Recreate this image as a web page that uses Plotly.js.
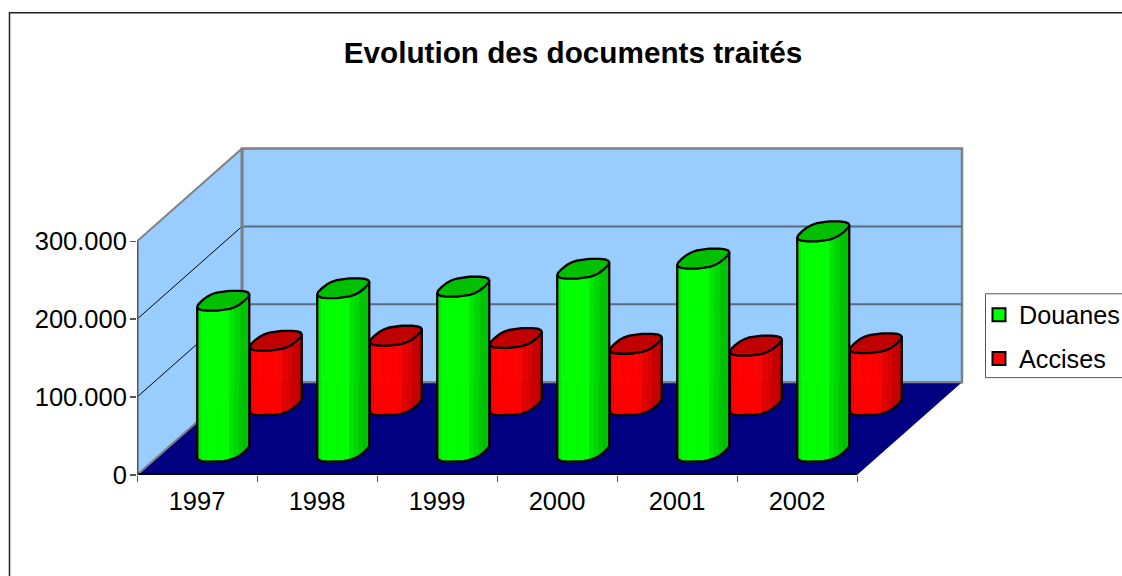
<!DOCTYPE html>
<html>
<head>
<meta charset="utf-8">
<script src="https://cdn.plot.ly/plotly-3.0.1.min.js"></script>
<style>html,body{margin:0;padding:0;background:#fff;overflow:hidden}</style>
</head>
<body>
<div id="chart" style="width:1122px;height:576px"></div>
<script>
const years = ['1997', '1998', '1999', '2000', '2001', '2002'];
const douanes = [194000, 210000, 212000, 235000, 248000, 283000];
const accises = [83000, 89500, 86500, 79000, 76700, 79700];
const valueTicks = [0, 100000, 200000, 300000];
const valueLabels = ['0', '100.000', '200.000', '300.000'];

// oblique projection of the 3D box into the 2D axes
const DEPTH_X = 0.875, DEPTH_Y = 119230, VMAX = 300000, NCAT = years.length;
const project = (c, v, z) => [c + z * DEPTH_X, v + z * DEPTH_Y];
const base = {type: 'scatter', hoverinfo: 'skip', showlegend: false, cliponaxis: false};
const traces = [];

function poly(corners, fill, lineColor, width) {
  const pts = corners.map(p => project(p[0], p[1], p[2]));
  const tr = Object.assign({}, base, {
    x: pts.map(p => p[0]), y: pts.map(p => p[1]), mode: lineColor ? 'lines' : 'none',
    line: {color: lineColor || 'rgba(0,0,0,0)', width: width || 1}
  });
  if (fill) { tr.fill = 'toself'; tr.fillcolor = fill; }
  traces.push(tr);
}

// series first, so that their legend entries exist; cylinders cover the markers
const seriesDefs = [
  {name: 'Douanes', vals: douanes, z: 0.25, cap: '#00C000',
   shades: ['#00F000', '#00FF00', '#00FF00', '#00E400', '#00D800', '#00C400']},
  {name: 'Accises', vals: accises, z: 0.75, cap: '#C00000',
   shades: ['#F00000', '#FF0000', '#FF0000', '#E40000', '#D80000', '#C40000']}
];
seriesDefs.forEach((s, i) => {
  const pts = s.vals.map((v, k) => project(k + 0.5, v, s.z));
  traces.push({
    type: 'scatter', mode: 'markers', name: s.name, legendgroup: s.name, hoverinfo: 'skip',
    x: pts.map(p => p[0]), y: pts.map(p => p[1]),
    marker: {symbol: 'square', size: 13, color: i === 0 ? '#00FF00' : '#FF0000', line: {color: '#000', width: 2}}
  });
});

// walls and floor
const WALL = '#99CCFF', EDGE = '#808080';
poly([[0,0,1],[NCAT,0,1],[NCAT,VMAX,1],[0,VMAX,1],[0,0,1]], WALL, EDGE, 2.5);
poly([[0,0,0],[0,0,1],[0,VMAX,1],[0,VMAX,0],[0,0,0]], WALL, EDGE, 2);
valueTicks.slice(1, 3).forEach(v => {
  poly([[0,v,0],[0,v,1]], null, '#000000', 1);
});
valueTicks.slice(1, 3).forEach(v => {
  poly([[0,v,1],[NCAT,v,1]], null, '#5A6B80', 2);
});
poly([[0,0,0],[NCAT,0,0],[NCAT,0,1],[0,0,1],[0,0,0]], '#000080', null);
poly([[0,0,0],[0,0,1],[NCAT,0,1]], null, EDGE, 2);
poly([[0,VMAX,1],[0,0,1]], null, EDGE, 3);
poly([[0,0,0],[NCAT,0,0]], null, '#000000', 3.5);
poly([[0,0,0],[0,VMAX,0]], null, '#555555', 3);

// cylinder footprint: a squared ellipse on the floor plane
const HALF_W = 0.177, HALF_Z = 0.1075, STEPS = 22, POWER = 0.72;
const spow = a => Math.sign(a) * Math.pow(Math.abs(a), POWER);
function outline(cat, val, z) {
  const out = [];
  for (let i = 0; i < STEPS; i++) {
    const t = 2 * Math.PI * i / STEPS;
    out.push(project(cat + HALF_W * spow(Math.cos(t)), val, z + HALF_Z * spow(Math.sin(t))));
  }
  return out;
}
function cylinder(cat, value, s) {
  const top = outline(cat, value, s.z), bot = outline(cat, 0, s.z);
  let lo = 0, hi = 0;
  top.forEach((p, i) => { if (p[0] < top[lo][0]) lo = i; if (p[0] > top[hi][0]) hi = i; });
  // front chain: from the leftmost to the rightmost point through the near side
  const chain = [];
  for (let i = lo; ; i = (i + 1) % STEPS) { chain.push(i); if (i === hi) break; }
  const x0 = top[lo][0], x1 = top[hi][0];
  for (let k = 0; k + 1 < chain.length; k++) {
    const a = chain[k], b = chain[k + 1];
    const f = ((top[a][0] + top[b][0]) / 2 - x0) / (x1 - x0);
    const color = s.shades[Math.min(5, f < 0.1 ? 0 : f < 0.3 ? 1 : f < 0.58 ? 2 : f < 0.72 ? 3 : f < 0.85 ? 4 : 5)];
    traces.push(Object.assign({}, base, {
      x: [top[a][0], top[b][0], bot[b][0], bot[a][0], top[a][0]],
      y: [top[a][1], top[b][1], bot[b][1], bot[a][1], top[a][1]],
      mode: 'lines', fill: 'toself', fillcolor: color, line: {color: color, width: 0.6}
    }));
  }
  // silhouette
  const sil = chain.map(i => bot[i]);
  sil.unshift(top[lo]); sil.push(top[hi]);
  traces.push(Object.assign({}, base, {
    x: sil.map(p => p[0]), y: sil.map(p => p[1]), mode: 'lines',
    line: {color: '#000', width: 2.3}
  }));
  // cap
  const cap = top.concat([top[0]]);
  traces.push(Object.assign({}, base, {
    x: cap.map(p => p[0]), y: cap.map(p => p[1]), mode: 'lines', fill: 'toself',
    fillcolor: s.cap, line: {color: '#000', width: 2.3}
  }));
}
[seriesDefs[1], seriesDefs[0]].forEach(s => {
  s.vals.forEach((v, k) => cylinder(k + 0.5, v, s));
});

// the plot area is padded a little at top and right so the wall edges are not clipped
const PAD = 3, PX_PER_CAT = 120, PX_PER_VAL = 78 / 100000;
const L = 137, R = 962 + PAD, T = 148 - PAD, B = 475.5, W = 1122, H = 576;
const pw = R - L, ph = B - T;
const px = x => (x - L) / pw, py = y => (B - y) / ph;
const FONT = 'Liberation Sans, Arial, sans-serif';
const layout = {
  width: W, height: H, autosize: false, showlegend: true,
  paper_bgcolor: '#fff', plot_bgcolor: 'rgba(0,0,0,0)',
  margin: {l: L, r: W - R, t: T, b: H - B, pad: 0, autoexpand: false},
  font: {family: FONT, size: 25.5, color: '#000'},
  title: {text: 'Evolution des documents traités', x: 573 / W, xanchor: 'center', y: 1 - 53 / H, yanchor: 'middle',
          font: {family: FONT, size: 29.7, color: '#000', weight: 'bold'}},
  xaxis: {range: [0, pw / PX_PER_CAT], tickvals: years.map((y, i) => i + 0.5), ticktext: years, ticks: '',
          showgrid: false, zeroline: false, showline: false, fixedrange: true, ticklabelstandoff: 8,
          minor: {tick0: 0, dtick: 1, ticks: 'outside', ticklen: 6, tickwidth: 1, tickcolor: '#555', showgrid: false}},
  yaxis: {range: [0, ph / PX_PER_VAL], tickvals: valueTicks, ticktext: valueLabels, ticks: 'outside', ticklen: 6,
          tickwidth: 1.5, tickcolor: '#555', showgrid: false, zeroline: false, showline: false, fixedrange: true,
          ticklabelstandoff: -2},
  legend: {x: px(979), xanchor: 'left', y: py(292), yanchor: 'top', bgcolor: 'rgba(0,0,0,0)', borderwidth: 0,
           tracegroupgap: 8, font: {family: FONT, size: 25.2, color: '#000'}, itemclick: false, itemdoubleclick: false},
  shapes: [
    {type: 'rect', xref: 'paper', yref: 'paper', x0: px(9.5), x1: px(1140), y0: py(12.5), y1: py(600),
     line: {color: '#222', width: 1.5}, fillcolor: 'rgba(0,0,0,0)', layer: 'below'},
    {type: 'rect', xref: 'paper', yref: 'paper', x0: px(985.5), x1: px(1140), y0: py(294), y1: py(378),
     line: {color: '#555', width: 1}, fillcolor: '#fff', layer: 'below'}
  ]
};
Plotly.newPlot('chart', traces, layout, {displayModeBar: false, staticPlot: true});
</script>
</body>
</html>
